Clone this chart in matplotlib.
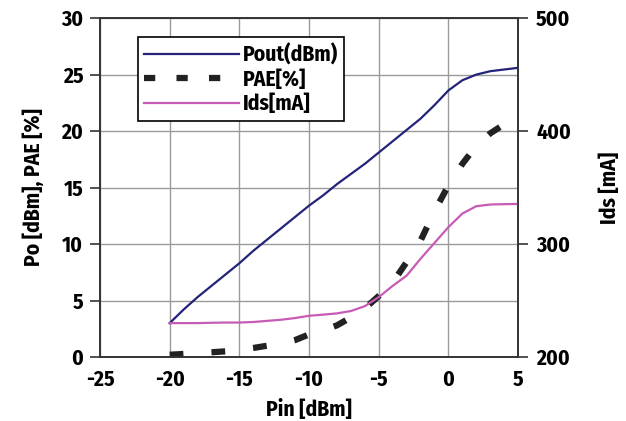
import numpy as np
import matplotlib
matplotlib.use('Agg')
import matplotlib.pyplot as plt
from matplotlib.lines import Line2D

plt.rcParams['font.family'] = ['Fira Sans Condensed', 'DejaVu Sans']
plt.rcParams['font.weight'] = 'bold'
plt.rcParams['axes.unicode_minus'] = False

# Pin sweep [dBm]
pin = [-20, -19, -18, -17, -16, -15, -14, -13, -12, -11, -10, -9, -8, -7, -6,
       -5, -4, -3, -2, -1, 0, 1, 2, 3, 4, 5]
pout = [3.0, 4.2, 5.3, 6.3, 7.3, 8.3, 9.4, 10.4, 11.4, 12.4, 13.4, 14.3, 15.3,
        16.2, 17.1, 18.1, 19.1, 20.1, 21.1, 22.3, 23.6, 24.5, 25.0, 25.3, 25.45, 25.6]
pae = [0.2, 0.27, 0.35, 0.42, 0.5, 0.65, 0.8, 1.0, 1.2, 1.5, 2.0, 2.35, 2.8,
       3.5, 4.3, 5.4, 6.6, 8.4, 10.3, 12.9, 15.2, 17.1, 18.7, 19.8, 20.6, 21.5]
ids = [230, 230, 230, 230.3, 230.5, 230.5, 231, 232, 233, 234.5, 236.5, 237.5,
       238.6, 240.7, 245, 253, 263, 272, 287, 301, 315, 327, 333.5, 335, 335.3, 335.5]

navy = '#23237a'
magenta = '#c75bb5'
dark = '#222222'
fs = 15.5

fig = plt.figure(figsize=(6.26, 4.21), dpi=100)
ax = fig.add_axes([0.1597, 0.152, 0.668, 0.805])
ax2 = ax.twinx()

ax.plot(pin, pout, color=navy, lw=1.6)
ax.plot(pin, pae, color=dark, lw=4.5, dashes=(2.2, 4.5))
ax2.plot(pin, ids, color=magenta, lw=1.6)

ax.set_xlim(-25, 5)
ax.set_ylim(0, 30)
ax2.set_ylim(200, 500)
ax.set_xticks(np.arange(-25, 6, 5))
ax.set_yticks(np.arange(0, 31, 5))
ax2.set_yticks(np.arange(200, 501, 100))

ax.grid(True, color='#9a9a9a', lw=1)
ax.set_axisbelow(True)
for a in (ax, ax2):
    for s in a.spines.values():
        s.set_color('#333333')
        s.set_linewidth(1.2)
ax.tick_params(axis='y', length=7, width=1.2, color='#333333', labelsize=fs, pad=5)
ax.tick_params(axis='x', length=0, labelsize=fs, pad=9)
ax2.tick_params(axis='y', length=7, width=1.2, color='#333333', labelsize=fs, pad=6)

ax.set_xlabel('Pin [dBm]', fontsize=fs, fontweight='bold', labelpad=6)
ax.set_ylabel('Po [dBm], PAE [%]', fontsize=fs, fontweight='bold', labelpad=12)
ax2.set_ylabel('Ids [mA]', fontsize=fs, fontweight='bold', labelpad=20)

handles = [Line2D([], [], color=navy, lw=1.6),
           Line2D([], [], color=dark, lw=4.5, dashes=(1.8, 3.4)),
           Line2D([], [], color=magenta, lw=1.6)]
leg = ax2.legend(handles, ['Pout(dBm)', 'PAE[%]', 'Ids[mA]'],
                 loc='upper left', bbox_to_anchor=(0.091, 0.944),
                 borderaxespad=0, fontsize=fs, handlelength=4.4,
                 handletextpad=0.15, fancybox=False, framealpha=1,
                 edgecolor='black', labelspacing=0.15, borderpad=0.3)
leg.get_frame().set_linewidth(1.2)

fig.savefig('out.png', dpi=100)
